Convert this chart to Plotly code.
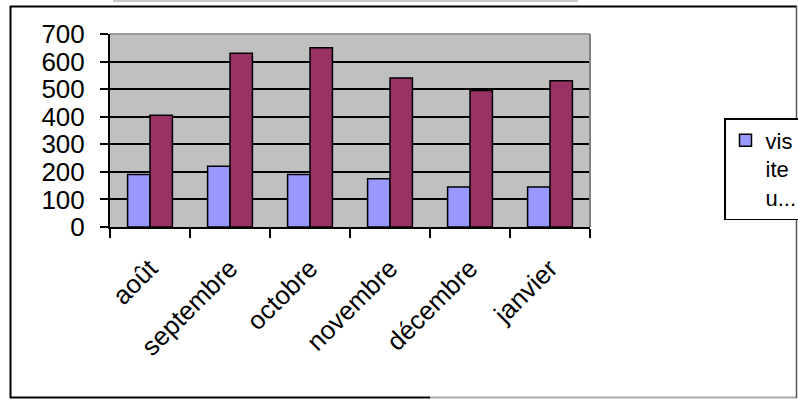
import plotly.graph_objects as go

months = ["août", "septembre", "octobre", "novembre", "décembre", "janvier"]
visites_uniques = [190, 220, 190, 175, 145, 145]
pages_vues = [405, 630, 650, 540, 495, 530]
legend_label = "vis<br>ite<br>u..."
y_ticks = [0, 100, 200, 300, 400, 500, 600, 700]

FONT = "Liberation Sans, Arial, sans-serif"

fig = go.Figure()
fig.add_trace(go.Bar(x=months, y=visites_uniques, name=legend_label,
                     marker=dict(color="#9999ff", line=dict(color="black", width=1.5))))
fig.add_trace(go.Bar(x=months, y=pages_vues, name="pages vues", showlegend=False,
                     marker=dict(color="#993366", line=dict(color="black", width=1.5))))

# plot area: x 110..590, y 34..227
L, R, T, B = 110, 590, 34, 227
W, H = R - L, B - T
def px(x):
    return (x - L) / W
def py(y):
    return (B - y) / H

shapes = [
    dict(type="line", xref="paper", yref="paper", x0=0, x1=1, y0=1, y1=1,
         line=dict(color="#999999", width=2), layer="above"),
    dict(type="line", xref="paper", yref="paper", x0=1, x1=1, y0=0, y1=1,
         line=dict(color="#808080", width=2), layer="above"),
    dict(type="line", xref="paper", yref="paper", x0=px(10), x1=px(797), y0=py(6.5), y1=py(6.5),
         line=dict(color="black", width=2)),
    dict(type="line", xref="paper", yref="paper", x0=px(10.5), x1=px(10.5), y0=py(6), y1=py(398),
         line=dict(color="black", width=2)),
    dict(type="line", xref="paper", yref="paper", x0=px(10), x1=px(430), y0=py(397.5), y1=py(397.5),
         line=dict(color="black", width=2)),
    dict(type="line", xref="paper", yref="paper", x0=px(430), x1=px(797), y0=py(397.5), y1=py(397.5),
         line=dict(color="#aaaaaa", width=2)),
    dict(type="line", xref="paper", yref="paper", x0=px(796.5), x1=px(796.5), y0=py(6), y1=py(398),
         line=dict(color="#555555", width=1.5)),
    dict(type="line", xref="paper", yref="paper", x0=px(113), x1=px(578), y0=py(1), y1=py(1),
         line=dict(color="#c8c8c8", width=2)),
]

fig.update_layout(
    width=798, height=399,
    margin=dict(l=L, r=798 - R, t=T, b=399 - B, autoexpand=False),
    paper_bgcolor="white", plot_bgcolor="#c0c0c0",
    barmode="group", bargap=0.44, bargroupgap=0,
    font=dict(family=FONT, color="black"),
    showlegend=True,
    legend=dict(x=px(724), y=py(118), xanchor="left", yanchor="top",
                bordercolor="black", borderwidth=1.5, bgcolor="white",
                font=dict(size=22, family=FONT), valign="top",
                tracegroupgap=0),
    shapes=shapes,
)
fig.update_xaxes(type="category", tickson="boundaries", showline=True, linecolor="black",
                 linewidth=2, ticks="outside", ticklen=9, tickwidth=1.5, tickcolor="black",
                 tickangle=-45, tickfont=dict(size=26, family=FONT), showgrid=False,
                 ticklabelstandoff=14)
fig.update_yaxes(range=[0, 700], tickvals=y_ticks, showline=True, linecolor="black",
                 linewidth=2, ticks="outside", ticklen=8, tickwidth=1.5, tickcolor="black",
                 showgrid=True, gridcolor="black", gridwidth=1.5, zeroline=False,
                 tickfont=dict(size=26, family=FONT), ticklabelstandoff=10)

fig.write_html("out.html")
